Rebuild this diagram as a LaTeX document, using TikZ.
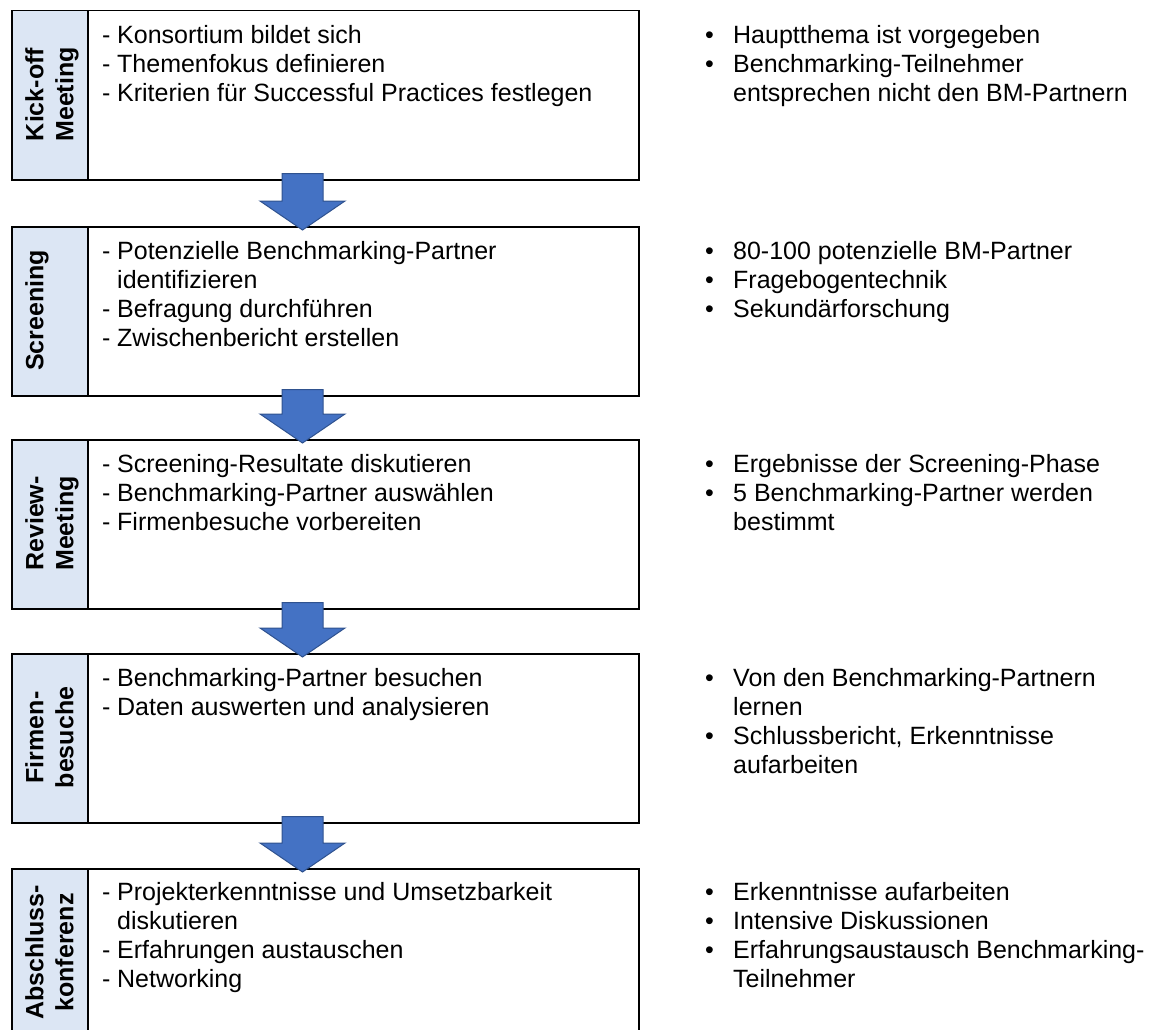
\documentclass[tikz,border=0pt]{standalone}
\usepackage{fontspec}
\setmainfont{Liberation Sans}
\usetikzlibrary{calc}

\definecolor{labelfill}{HTML}{DCE6F4}
\definecolor{arrowfill}{HTML}{4472C4}
\definecolor{arrowline}{HTML}{2F528F}

% list lines: a marker column followed by the text; \dcont and \bcont indent a wrapped line
\newlength\dashw \setlength\dashw{15pt}
\newlength\bulw  \setlength\bulw{29pt}
\newcommand\dash{\makebox[\dashw][l]{-}}
\newcommand\dcont{\hspace*{\dashw}}
\newcommand\bul{\makebox[\bulw][l]{\hspace{1pt}•}}
\newcommand\bcont{\hspace*{\bulw}}
\newcommand\listblock[1]{\parbox[t]{520pt}{\fontsize{25}{29}\selectfont #1}}

% block arrow from the bottom of one phase box to the top of the next
\newcommand\flowarrow[2]{%
  \coordinate (s-#1) at ($(#1.south -| ax)+(0,-7)$);
  \coordinate (t-#1) at ($(#2.north -| ax)+(0,4)$);
  \coordinate (h-#1) at ($(t-#1)+(0,-29)$);
  \path[blockarrow] ($(s-#1)+(-20.5,0)$) -- ($(s-#1)+(20.5,0)$) -- ($(h-#1)+(20.5,0)$)
    -- ($(h-#1)+(42.5,0)$) -- (t-#1) -- ($(h-#1)+(-42.5,0)$) -- ($(h-#1)+(-20.5,0)$) -- cycle;
}

\begin{document}
\begin{tikzpicture}[x=1pt,y=-1pt,
  phasebox/.style={draw=black, line width=1.5pt, rectangle, inner sep=0pt,
    minimum width=627pt, minimum height=169pt, anchor=north west},
  labelbox/.style={draw=black, line width=1.5pt, fill=labelfill, rectangle, inner sep=0pt,
    minimum width=76pt, minimum height=169pt, anchor=north west},
  labeltext/.style={rotate=90, anchor=north, align=center, inner sep=0pt,
    font=\fontsize{25}{30}\selectfont\bfseries},
  listtext/.style={anchor=base west, inner sep=0pt},
  blockarrow/.style={fill=arrowfill, draw=arrowline, line width=1pt, line join=miter},
]
\clip (0,0) rectangle (1154,1030);
\useasboundingbox (0,0) rectangle (1154,1030);
\coordinate (ax) at (302.5,0);

% phase boxes with their label columns
\foreach \n/\t in {1/10, 2/226, 3/439, 4/653, 5/868}{
  \node[phasebox] (b\n) at (11,\t) {};
  \node[labelbox] (k\n) at (11,\t) {};
}

% rotated phase names
\node[labeltext] (l1) at (25,94.5)  {Kick-off\\Meeting};
\node[labeltext] (l2) at (25,310.5) {Screening};
\node[labeltext] (l3) at (25,523.5) {Review-\\Meeting};
\node[labeltext] (l4) at (25,737.5) {Firmen-\\besuche};
\node[labeltext] (l5) at (25,952.5) {Abschluss-\\konferenz};

% tasks of each phase
\node[listtext] (a1) at (102,44) {\listblock{%
  \dash Konsortium bildet sich\\
  \dash Themenfokus definieren\\
  \dash Kriterien für Successful Practices festlegen}};
\node[listtext] (a2) at (102,259) {\listblock{%
  \dash Potenzielle Benchmarking-Partner\\
  \dcont identifizieren\\
  \dash Befragung durchführen\\
  \dash Zwischenbericht erstellen}};
\node[listtext] (a3) at (102,472) {\listblock{%
  \dash Screening-Resultate diskutieren\\
  \dash Benchmarking-Partner auswählen\\
  \dash Firmenbesuche vorbereiten}};
\node[listtext] (a4) at (102,686) {\listblock{%
  \dash Benchmarking-Partner besuchen\\
  \dash Daten auswerten und analysieren}};
\node[listtext] (a5) at (102,900) {\listblock{%
  \dash Projekterkenntnisse und Umsetzbarkeit\\
  \dcont diskutieren\\
  \dash Erfahrungen austauschen\\
  \dash Networking}};

% remarks beside each phase
\node[listtext] (n1) at (704,44) {\listblock{%
  \bul Hauptthema ist vorgegeben\\
  \bul Benchmarking-Teilnehmer\\
  \bcont entsprechen nicht den BM-Partnern}};
\node[listtext] (n2) at (704,259) {\listblock{%
  \bul 80-100 potenzielle BM-Partner\\
  \bul Fragebogentechnik\\
  \bul Sekundärforschung}};
\node[listtext] (n3) at (704,472) {\listblock{%
  \bul Ergebnisse der Screening-Phase\\
  \bul 5 Benchmarking-Partner werden\\
  \bcont bestimmt}};
\node[listtext] (n4) at (704,686) {\listblock{%
  \bul Von den Benchmarking-Partnern\\
  \bcont lernen\\
  \bul Schlussbericht, Erkenntnisse\\
  \bcont aufarbeiten}};
\node[listtext] (n5) at (704,900) {\listblock{%
  \bul Erkenntnisse aufarbeiten\\
  \bul Intensive Diskussionen\\
  \bul Erfahrungsaustausch Benchmarking-\\
  \bcont Teilnehmer}};

% arrows between the phases
\flowarrow{b1}{b2}
\flowarrow{b2}{b3}
\flowarrow{b3}{b4}
\flowarrow{b4}{b5}
\end{tikzpicture}
\end{document}
